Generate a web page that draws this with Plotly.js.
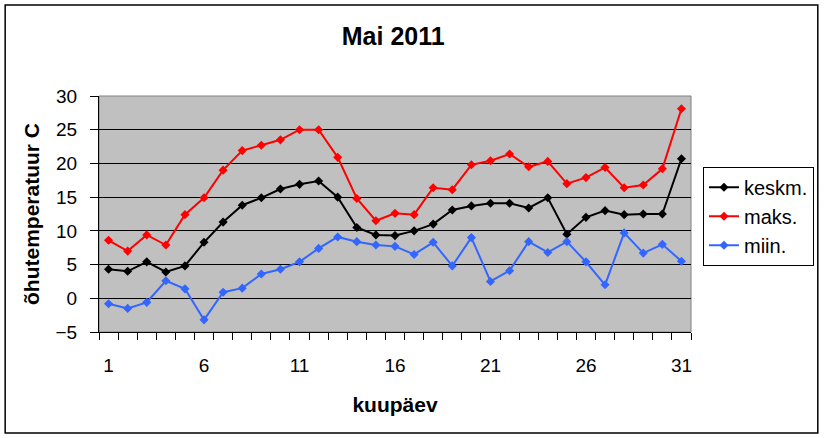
<!DOCTYPE html>
<html>
<head>
<meta charset="utf-8">
<script src="https://cdn.plot.ly/plotly-3.0.1.min.js"></script>
<style>
  body { margin: 0; background: #ffffff; }
  #plot-container { width: 825px; height: 438px; }
</style>
</head>
<body>
<div id="plot-container"></div>
<script>
// kuupäevad 1..31
const paevad = [1, 2, 3, 4, 5, 6, 7, 8, 9, 10, 11, 12, 13, 14, 15, 16,
                17, 18, 19, 20, 21, 22, 23, 24, 25, 26, 27, 28, 29, 30, 31];

const keskm = [4.3, 4.0, 5.4, 3.9, 4.8, 8.3, 11.3, 13.8, 14.9, 16.2, 16.9, 17.4, 15.0, 10.5, 9.4, 9.3,
               10.0, 11.0, 13.1, 13.7, 14.1, 14.1, 13.4, 14.9, 9.5, 12.0, 13.0, 12.4, 12.5, 12.5, 20.7];

const maks = [8.6, 7.0, 9.4, 7.9, 12.4, 14.9, 19.0, 21.9, 22.7, 23.5, 25.0, 25.0, 20.9, 14.8, 11.5, 12.6,
              12.4, 16.4, 16.1, 19.8, 20.4, 21.4, 19.5, 20.3, 17.0, 17.9, 19.4, 16.4, 16.8, 19.2, 28.1];

const miin = [-0.8, -1.5, -0.6, 2.6, 1.4, -3.2, 0.9, 1.5, 3.6, 4.3, 5.4, 7.4, 9.1, 8.4, 7.9, 7.7,
              6.5, 8.3, 4.8, 9.0, 2.5, 4.1, 8.4, 6.8, 8.4, 5.4, 2.0, 9.7, 6.7, 8.0, 5.5];

const xTicks = [1, 6, 11, 16, 21, 26, 31];

function seeria(nimi, y, color) {
    return {
        x: paevad,
        y: y,
        name: nimi,
        type: 'scatter',
        mode: 'lines+markers',
        line: { color: color, width: 2 },
        marker: { symbol: 'diamond', size: 7, color: color }
    };
}

const traces = [
    seeria('keskm.', keskm, '#000000'),
    seeria('maks.', maks, '#ff0000'),
    seeria('miin.', miin, '#3366ff')
];

const font = 'Liberation Sans, Arial, sans-serif';

const layout = {
    autosize: false,
    width: 825,
    height: 438,
    margin: { l: 99, r: 133, t: 96, b: 106 },
    paper_bgcolor: '#ffffff',
    plot_bgcolor: '#c0c0c0',
    font: { family: font, color: '#000000', size: 19 },
    title: {
        text: '<b>Mai 2011</b>',
        font: { family: font, size: 25, color: '#000000' },
        x: 0.497, xref: 'paper', xanchor: 'center',
        y: 0.918, yanchor: 'middle'
    },
    xaxis: {
        range: [0.5, 31.5],
        tickvals: xTicks,
        ticktext: xTicks.map(String),
        ticks: '',
        tickfont: { size: 19 },
        showgrid: false,
        zeroline: false,
        showline: true,
        linecolor: '#000000',
        linewidth: 1,
        ticklabelstandoff: 16,
        minor: { tick0: 0.5, dtick: 1, ticks: 'outside', ticklen: 7, tickcolor: '#000000', showgrid: false },
        title: { text: '<b>kuupäev</b>', font: { size: 21 }, standoff: 22 },
        fixedrange: true
    },
    yaxis: {
        range: [-5, 30],
        dtick: 5,
        tick0: 0,
        ticks: 'outside',
        ticklen: 8,
        tickcolor: '#000000',
        tickfont: { size: 19 },
        ticklabelstandoff: 9,
        showgrid: true,
        gridcolor: '#000000',
        gridwidth: 1,
        zeroline: false,
        showline: true,
        linecolor: '#000000',
        linewidth: 1,
        title: { text: '<b>õhutemperatuur C</b>', font: { size: 21 }, standoff: 10 },
        fixedrange: true
    },
    legend: {
        x: 1.0185, xanchor: 'left',
        y: 0.70, yanchor: 'top',
        bgcolor: '#ffffff',
        bordercolor: '#000000',
        borderwidth: 1,
        font: { size: 20 },
        tracegroupgap: 0,
        itemwidth: 30
    },
    showlegend: true,
    shapes: [
        { type: 'rect', xref: 'paper', yref: 'paper', x0: 0, x1: 1, y0: 0, y1: 1,
          line: { color: '#808080', width: 1 }, layer: 'below' },
        { type: 'rect', xref: 'paper', yref: 'paper', x0: -0.1585, x1: 1.2142, y0: -0.428, y1: 1.3856,
          line: { color: '#000000', width: 1.5 } }
    ]
};

Plotly.newPlot('plot-container', traces, layout, { displayModeBar: false, staticPlot: true });
</script>
</body>
</html>
